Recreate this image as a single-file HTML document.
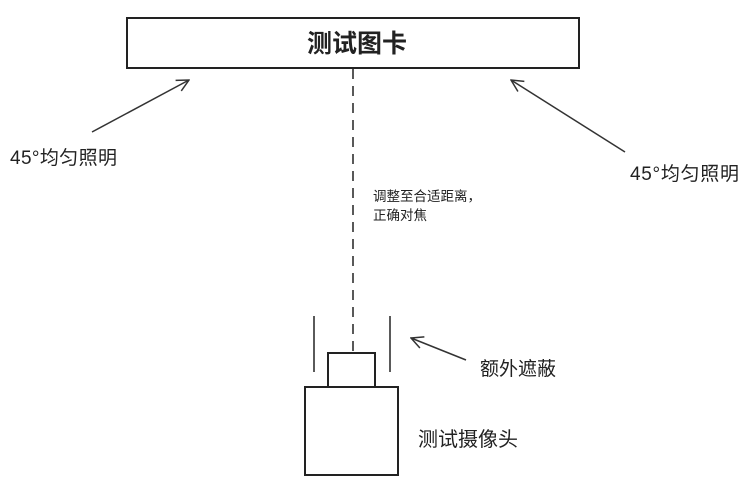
<!DOCTYPE html>
<html><head><meta charset="utf-8"><style>
html,body{margin:0;padding:0;background:#fff;width:751px;height:492px;overflow:hidden}
svg text{font-family:"Liberation Sans","Noto Sans CJK SC",sans-serif;fill:#222}
</style></head><body>
<svg width="751" height="492" viewBox="0 0 751 492" xmlns="http://www.w3.org/2000/svg">
<defs><marker id="a" markerWidth="14" markerHeight="14" refX="13" refY="7" orient="auto" markerUnits="userSpaceOnUse">
<path d="M1,1 L13,7 L1,13" fill="none" stroke="#333" stroke-width="1.5"/></marker></defs>
<rect x="127" y="18" width="452" height="50" fill="#fff" stroke="#222" stroke-width="2"/>
<text x="357" y="52" font-size="25" font-weight="bold" text-anchor="middle" fill="#111">测试图卡</text>
<line x1="353" y1="69" x2="353" y2="353" stroke="#222" stroke-width="1.5" stroke-dasharray="10,7"/>
<line x1="92" y1="132" x2="189" y2="80" stroke="#333" stroke-width="1.5" marker-end="url(#a)"/>
<line x1="625" y1="152" x2="511" y2="80" stroke="#333" stroke-width="1.5" marker-end="url(#a)"/>
<line x1="466" y1="360" x2="411" y2="338" stroke="#333" stroke-width="1.5" marker-end="url(#a)"/>
<text x="10" y="164" font-size="19" textLength="107">45°均匀照明</text>
<text x="630" y="180" font-size="19" textLength="109">45°均匀照明</text>
<text x="373" y="201" font-size="13.5">调整至合适距离，</text>
<text x="373" y="220" font-size="13.5">正确对焦</text>
<line x1="314" y1="316" x2="314" y2="372" stroke="#222" stroke-width="1.5"/>
<line x1="390" y1="316" x2="390" y2="372" stroke="#222" stroke-width="1.5"/>
<rect x="328" y="353" width="47" height="34" fill="#fff" stroke="#222" stroke-width="2"/>
<rect x="305" y="387" width="93" height="88" fill="#fff" stroke="#222" stroke-width="2"/>
<text x="480" y="375" font-size="19">额外遮蔽</text>
<text x="418" y="446" font-size="20">测试摄像头</text>
</svg>
</body></html>
